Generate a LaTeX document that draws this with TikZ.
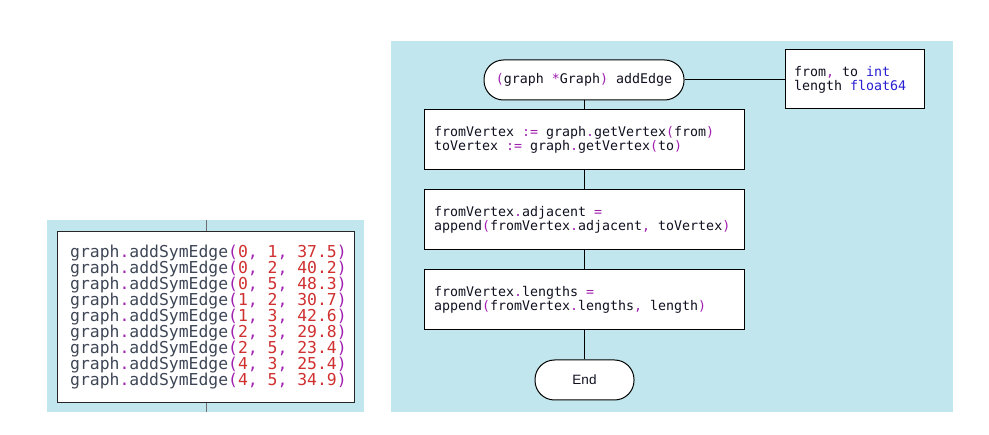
\documentclass[tikz,border=0pt]{standalone}
\usepackage{fontspec}
\setmonofont{DejaVu Sans Mono}
\newfontfamily\endfont{Liberation Sans}
\definecolor{bgblue}{RGB}{194,230,238}
\definecolor{cgray}{RGB}{62,70,86}
\definecolor{cpur}{RGB}{160,32,176}
\definecolor{cred}{RGB}{208,48,48}
\definecolor{cblk}{RGB}{16,16,32}
\definecolor{cblu}{RGB}{40,30,210}
\definecolor{lgray}{RGB}{110,110,110}
\newcommand{\mypu}[1]{\textcolor{cpur}{#1}}
\newcommand{\myred}[1]{\textcolor{cred}{#1}}
\newcommand{\myblu}[1]{\textcolor{cblu}{#1}}
\newcommand{\ws}{\hbox to 0.602em{}}
\newcommand{\symline}[3]{graph\mypu{.}addSymEdge\mypu{(}\myred{#1}\mypu{,}\ws\myred{#2}\mypu{,}\ws\myred{#3}\mypu{)}}
\begin{document}
\begin{tikzpicture}[x=1pt,y=-1pt,
  panel/.style={fill=bgblue,draw=none},
  box/.style={draw=black,fill=white,line width=1pt},
  codebox/.style={box,inner xsep=10pt,inner ysep=0pt,text width=300pt,minimum height=60pt,align=left,
    font=\ttfamily\fontsize{13.3}{14}\selectfont,text=cblk},
  parbox/.style={box,inner xsep=9pt,inner ysep=0pt,text width=121pt,minimum height=59pt,align=left,
    font=\ttfamily\fontsize{13.3}{14}\selectfont,text=cblk},
  term/.style={box,rounded corners=19.5pt,minimum height=40pt,inner sep=0pt,text=cblk},
  link/.style={draw=black,line width=1pt},
  glink/.style={draw=lgray,line width=1pt}
]
\useasboundingbox (0,0) rectangle (989,435);
% panels
\fill[panel] (47,220) rectangle (364,412);
\fill[panel] (391,41) rectangle (953,412);

% left panel
\coordinate (ltop) at (206,220);
\coordinate (lbot) at (206,412);
\node[box,minimum width=297pt,minimum height=171pt,inner sep=0pt,draw=black!85] (lbox) at (205.5,317.5) {};
\draw[glink] (ltop) -- (ltop |- lbox.north);
\draw[glink] (lbot |- lbox.south) -- (lbot);
\node[anchor=west,inner sep=0pt,align=left,text=cgray,
  font=\ttfamily\fontsize{16.4}{16}\selectfont] (ltext) at (70,317) {%
\symline{0}{1}{37.5}\\
\symline{0}{2}{40.2}\\
\symline{0}{5}{48.3}\\
\symline{1}{2}{30.7}\\
\symline{1}{3}{42.6}\\
\symline{2}{3}{29.8}\\
\symline{2}{5}{23.4}\\
\symline{4}{3}{25.4}\\
\symline{4}{5}{34.9}};

% right panel
\node[term,minimum width=200pt,font=\ttfamily\fontsize{13.3}{14}\selectfont] (start) at (584,80)
  {\mypu{(}graph\ws\mypu{*}Graph\mypu{)}\ws addEdge};
\node[parbox] (params) at (854.5,79.5)
  {from\mypu{,}\ws to\ws\myblu{int}\\length\ws\myblu{float64}};
\node[codebox] (b1) at (584,140)
  {fromVertex\ws\mypu{:=}\ws graph\mypu{.}getVertex\mypu{(}from\mypu{)}\\toVertex\ws\mypu{:=}\ws graph\mypu{.}getVertex\mypu{(}to\mypu{)}};
\node[codebox] (b2) at (584,220)
  {fromVertex\mypu{.}adjacent\ws\mypu{=}\\append\mypu{(}fromVertex\mypu{.}adjacent\mypu{,}\ws toVertex\mypu{)}};
\node[codebox] (b3) at (584,300)
  {fromVertex\mypu{.}lengths\ws\mypu{=}\\append\mypu{(}fromVertex\mypu{.}lengths\mypu{,}\ws length\mypu{)}};
\node[term,minimum width=99pt,font=\endfont\fontsize{13.5}{15}\selectfont] (end) at (584.5,380) {End};

\draw[link] (start.east) -- (params.west |- start.east);
\draw[link] (start.south) -- (b1.north);
\draw[link] (b1.south) -- (b2.north);
\draw[link] (b2.south) -- (b3.north);
\draw[link] (b3.south) -- (end.north -| b3.south);
\end{tikzpicture}
\end{document}
